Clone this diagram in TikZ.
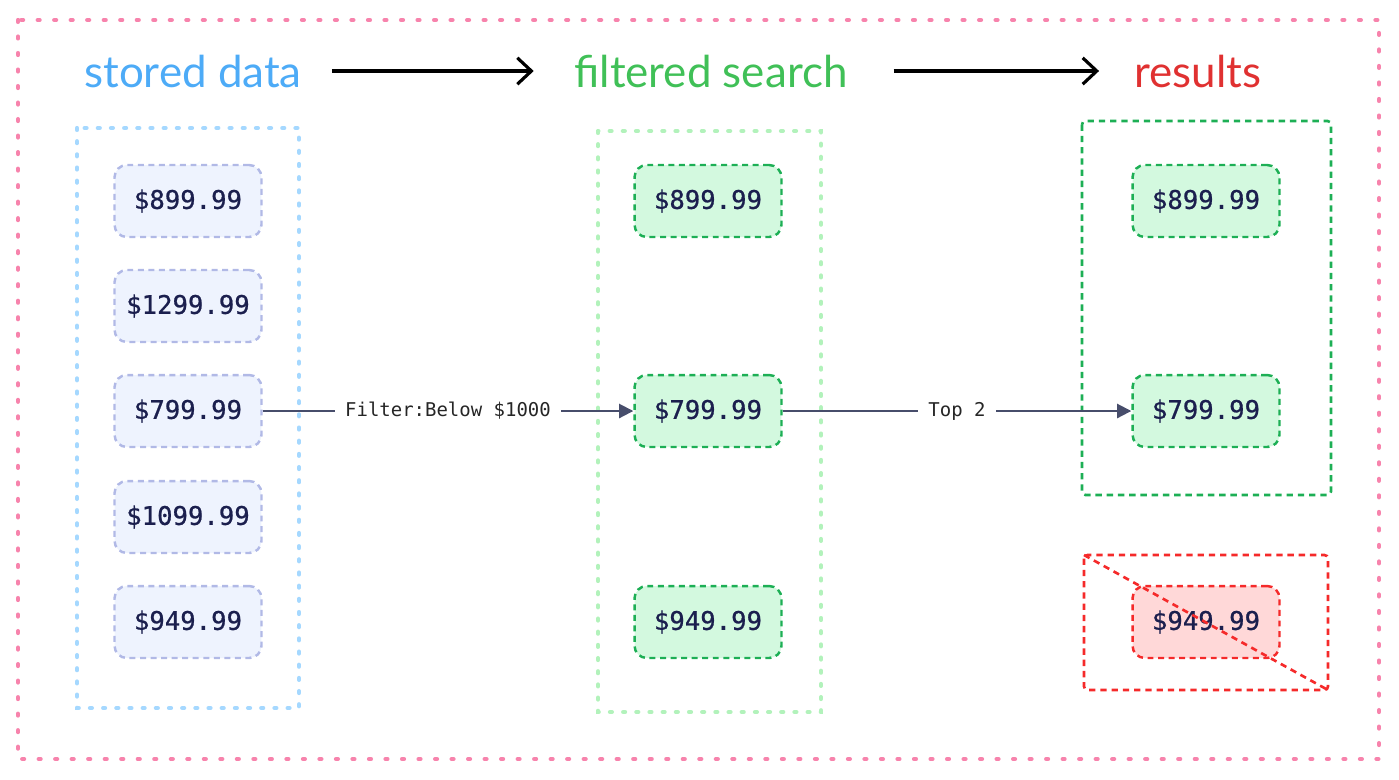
\documentclass[tikz,border=0pt]{standalone}
\usepackage{fontspec}
\setmainfont{Lato}
\setmonofont{DejaVu Sans Mono}
\newfontfamily\pricefont[FakeBold=0.8]{DejaVu Sans Mono}
\usetikzlibrary{arrows.meta}
\definecolor{pinkframe}{HTML}{F783AC}
\definecolor{bluetitle}{HTML}{4DABF7}
\definecolor{greentitle}{HTML}{40C057}
\definecolor{redtitle}{HTML}{E03131}
\definecolor{bluedot}{HTML}{A5D8FF}
\definecolor{greendot}{HTML}{B2F2BB}
\definecolor{itemfill}{HTML}{EEF3FE}
\definecolor{itemline}{HTML}{B1B9E6}
\definecolor{keepfill}{HTML}{D3F9DF}
\definecolor{keepline}{HTML}{1DAF55}
\definecolor{dropfill}{HTML}{FFD8D8}
\definecolor{dropline}{HTML}{F52A2A}
\definecolor{pricetext}{HTML}{1B1F4E}
\definecolor{connline}{HTML}{474D6B}
\tikzset{
  title/.style={font=\fontsize{25}{30}\selectfont, inner sep=0pt},
  dotbox/.style={line width=2.4pt, line cap=round, dash pattern=on 1.1pt off #1},
  price/.style={rectangle, rounded corners=7pt, line width=1.4pt, dash pattern=on 3.4pt off 2.6pt,
    minimum width=2.94cm, minimum height=1.44cm, text=pricetext,
    font=\pricefont\fontsize{14.6}{17}\selectfont},
  stored/.style={price, draw=itemline, fill=itemfill},
  kept/.style={price, draw=keepline, fill=keepfill},
  dropped/.style={price, draw=dropline, fill=dropfill},
  bigarrow/.style={line width=1.8pt, -{Straight Barb[length=8pt,width=15pt,line width=1.8pt]}},
  conn/.style={draw=connline, line width=1.1pt, -{Triangle[length=8pt,width=8pt]}},
  lbl/.style={fill=white, text=black!85, inner sep=6pt, font=\ttfamily\fontsize{10.8}{13}\selectfont}
}
\begin{document}
\begin{tikzpicture}[x=0.02cm, y=-0.02cm]
\useasboundingbox (0,0) rectangle (1399,779);
\draw[pinkframe, dotbox=8.3pt] (18,20) rectangle (1379,759);
\node[title, text=bluetitle] (tstored) at (193,71) {stored data};
\node[title, text=greentitle] (tfilter) at (711,71) {filtered search};
\node[title, text=redtitle] (tresult) at (1198,71) {results};
\draw[bigarrow, shorten <=17pt, shorten >=23pt] (tstored.east) -- (tfilter.west);
\draw[bigarrow, shorten <=26pt, shorten >=20pt] (tfilter.east) -- (tresult.west);
\draw[bluedot, dotbox=6.4pt] (77,128) rectangle (299,708);
\draw[greendot, dotbox=6.4pt] (598,131) rectangle (821,712);
\draw[keepline, line width=1.5pt, dash pattern=on 3.6pt off 2.8pt, rounded corners=2pt] (1082,121) rectangle (1331,495);
\foreach \i/\p/\y in {1/899.99/201, 2/1299.99/306, 3/799.99/411, 4/1099.99/517, 5/949.99/622}
  \node[stored] (s\i) at (188,\y) {\$\p};
\node[kept] (f1) at (708,201) {\$899.99};
\node[kept] (f2) at (708,411) {\$799.99};
\node[kept] (f3) at (708,622) {\$949.99};
\node[kept] (r1) at (1206,201) {\$899.99};
\node[kept] (r2) at (1206,411) {\$799.99};
\node[dropped] (r3) at (1206,622) {\$949.99};
\draw[dropline, line width=1.5pt, dash pattern=on 3.6pt off 2.8pt, rounded corners=2pt] (1084,555) rectangle (1328,690);
\draw[dropline, line width=1.5pt, dash pattern=on 3.6pt off 2.8pt] (1084,555) -- (1328,690);
\draw[conn] (s3) -- node[lbl] {Filter:Below \$1000} (f2);
\draw[conn] (f2) -- node[lbl] {Top 2} (r2);
\end{tikzpicture}
\end{document}
